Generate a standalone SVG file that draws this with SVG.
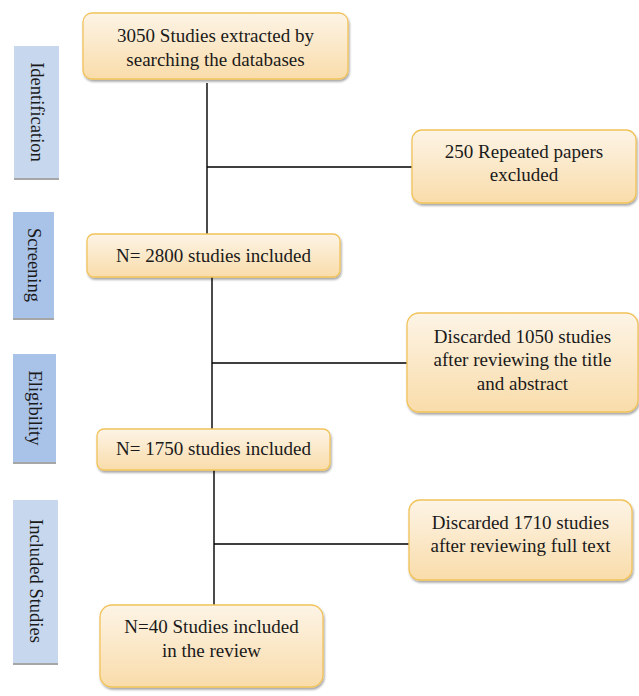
<svg xmlns="http://www.w3.org/2000/svg" width="639" height="696" viewBox="0 0 639 696">
<defs>
<linearGradient id="og" x1="0" y1="0" x2="0" y2="1">
<stop offset="0" stop-color="#fdf4e6"/>
<stop offset="1" stop-color="#f9dcaa"/>
</linearGradient>
<filter id="sh" x="-10%" y="-10%" width="125%" height="130%">
<feDropShadow dx="1" dy="2" stdDeviation="1.2" flood-color="#000" flood-opacity="0.35"/>
</filter>
</defs>
<style>
.box{fill:url(#og);stroke:#f1c35a;stroke-width:1.3;filter:url(#sh)}
.t{font-family:"Liberation Serif","Times New Roman",serif;font-size:19px;fill:#1a1a1a;text-anchor:middle}
.v{font-family:"Liberation Serif","Times New Roman",serif;font-size:18.5px;fill:#1a1a1a;text-anchor:middle;dominant-baseline:central}
.lb{fill:#c6d7ee}
.db{fill:#a9c2e7}
.bs{fill:#a6a6a6}
.c{stroke:#000;stroke-width:1.4;fill:none}
</style>
<g id="connectors">
<path class="c" d="M207 83V234M207 167H412"/>
<path class="c" d="M212 274V429M212 363H407"/>
<path class="c" d="M214 470V605M214 544H409"/>
</g>
<g id="stage-identification">
<rect class="bs" x="14" y="46" width="45" height="134"/>
<rect class="lb" x="14" y="46" width="45" height="132"/>
<text class="v" transform="translate(36.5,112) rotate(90)">Identification</text>
</g>
<g id="stage-screening">
<rect class="bs" x="13" y="212" width="41" height="108"/>
<rect class="db" x="13" y="212" width="41" height="106"/>
<text class="v" transform="translate(33.5,265) rotate(90)">Screening</text>
</g>
<g id="stage-eligibility">
<rect class="bs" x="13" y="354" width="43" height="110"/>
<rect class="db" x="13" y="354" width="43" height="108"/>
<text class="v" transform="translate(34.5,408) rotate(90)">Eligibility</text>
</g>
<g id="stage-included">
<rect class="bs" x="13" y="500" width="45" height="165"/>
<rect class="lb" x="13" y="500" width="45" height="163"/>
<text class="v" transform="translate(35.5,581) rotate(90)">Included Studies</text>
</g>
<g id="n1">
<rect class="box" x="83" y="13" width="265" height="66" rx="9"/>
<text class="t" x="215.5" y="42">3050 Studies extracted by</text>
<text class="t" x="215.5" y="66">searching the databases</text>
</g>
<g id="n2">
<rect class="box" x="87" y="234" width="253" height="43" rx="7"/>
<text class="t" x="213.5" y="262">N= 2800 studies included</text>
</g>
<g id="n3">
<rect class="box" x="97" y="429" width="233" height="41" rx="7"/>
<text class="t" x="213.5" y="455">N= 1750 studies included</text>
</g>
<g id="n4">
<rect class="box" x="100" y="605" width="223" height="82" rx="12"/>
<text class="t" x="211.5" y="633">N=40 Studies included</text>
<text class="t" x="211.5" y="657">in the review</text>
</g>
<g id="r1">
<rect class="box" x="412" y="130" width="224" height="73" rx="10"/>
<text class="t" x="524" y="158">250 Repeated papers</text>
<text class="t" x="524" y="181">excluded</text>
</g>
<g id="r2">
<rect class="box" x="407" y="313" width="231" height="99" rx="12"/>
<text class="t" x="522.5" y="343">Discarded 1050 studies</text>
<text class="t" x="522.5" y="366">after reviewing the title</text>
<text class="t" x="522.5" y="390">and abstract</text>
</g>
<g id="r3">
<rect class="box" x="409" y="500" width="223" height="80" rx="11"/>
<text class="t" x="520.5" y="529">Discarded 1710 studies</text>
<text class="t" x="520.5" y="552">after reviewing full text</text>
</g>
</svg>
